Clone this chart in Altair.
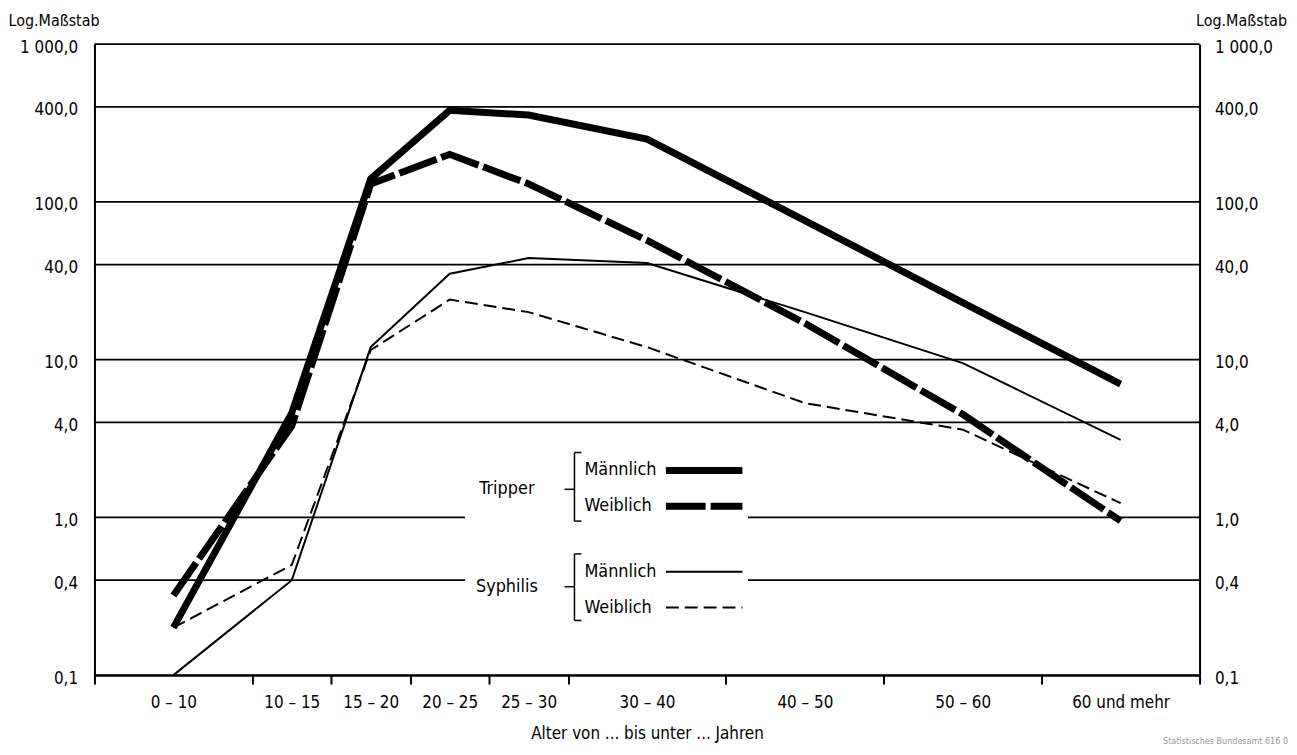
import altair as alt
import pandas as pd

# ---------------- data ----------------
age_labels = ["0 – 10", "10 – 15", "15 – 20", "20 – 25", "25 – 30",
              "30 – 40", "40 – 50", "50 – 60", "60 und mehr"]
age_mid = [5, 12.5, 17.5, 22.5, 27.5, 35, 45, 55, 65]
age_bounds = [0, 10, 15, 20, 25, 30, 40, 50, 60, 70]

tripper_m = [0.2, 4.6, 140, 380, 355, 250, 76, 23, 7.0]
tripper_w = [0.32, 3.8, 130, 200, 130, 57, 17, 4.5, 0.95]
syphilis_m = [0.1, 0.4, 12, 35, 44, 41, 20, 9.5, 3.1]
syphilis_w = [0.2, 0.5, 11.5, 24, 20, 12, 5.3, 3.6, 1.23]

y_ticks = [0.1, 0.4, 1, 4, 10, 40, 100, 400, 1000]
y_tick_labels = ["0,1", "0,4", "1,0", "4,0", "10,0", "40,0", "100,0", "400,0", "1 000,0"]

series_names = ["Tripper Männlich", "Tripper Weiblich", "Syphilis Männlich", "Syphilis Weiblich"]
series_values = [tripper_m, tripper_w, syphilis_m, syphilis_w]

rows = []
for name, vals in zip(series_names, series_values):
    for a, v in zip(age_mid, vals):
        rows.append({"serie": name, "alter": a, "wert": v})
df = pd.DataFrame(rows)
grid_df = pd.DataFrame({"wert": y_ticks})

# ---------------- styling ----------------
FONT = "Liberation Sans Narrow, DejaVu Sans Condensed, Roboto Condensed, Liberation Sans, sans-serif"
W, H = 1112, 635

styles = {
    "Tripper Männlich": dict(strokeWidth=7),
    "Tripper Weiblich": dict(strokeWidth=7, strokeDash=[40, 5]),
    "Syphilis Männlich": dict(strokeWidth=2),
    "Syphilis Weiblich": dict(strokeWidth=2, strokeDash=[13, 6]),
}


def label_expr(values, labels):
    expr = "''"
    for v, l in reversed(list(zip(values, labels))):
        expr = f"datum.value == {v} ? '{l}' : {expr}"
    return expr


xscale = alt.Scale(domain=[0, 70], nice=False, zero=False)
yscale = alt.Scale(type="log", domain=[0.1, 1000], nice=False)

x_tick_axis = alt.Axis(values=age_bounds, labels=False, ticks=True, tickSize=9,
                       tickWidth=2, tickColor="black", domainColor="black",
                       domainWidth=2, grid=False, orient="bottom",
                       title="Alter von ... bis unter ... Jahren",
                       titleFont=FONT, titleFontSize=17, titleFontWeight="normal",
                       titlePadding=41, titleColor="black")
x_label_axis = alt.Axis(values=age_mid, labelExpr=label_expr(age_mid, age_labels),
                        ticks=False, domain=False, grid=False, orient="bottom",
                        labelFont=FONT, labelFontSize=17, labelPadding=20,
                        labelColor="black", title=None, labelFlush=False,
                        labelOverlap=False)
y_left_axis = alt.Axis(values=y_ticks, labelExpr=label_expr(y_ticks, y_tick_labels),
                       ticks=False, grid=False, domainColor="black", domainWidth=2,
                       orient="left", labelFont=FONT, labelFontSize=17,
                       labelPadding=17, labelColor="black", labelOffset=3,
                       title="Log.Maßstab", titleAngle=0, titleAlign="left",
                       titleBaseline="middle", titleX=-87, titleY=-24,
                       titleFont=FONT, titleFontSize=16, titleFontWeight="normal",
                       titleColor="black", labelOverlap=False, labelFlush=False)
y_right_axis = alt.Axis(values=y_ticks, labelExpr=label_expr(y_ticks, y_tick_labels),
                        ticks=False, grid=False, domainColor="black", domainWidth=2,
                        orient="right", labelFont=FONT, labelFontSize=17,
                        labelPadding=15, labelColor="black", labelOffset=3,
                        title="Log.Maßstab", titleAngle=0, titleAlign="left",
                        titleBaseline="middle", titleX=-4, titleY=-24,
                        titleFont=FONT, titleFontSize=16, titleFontWeight="normal",
                        titleColor="black", labelOverlap=False, labelFlush=False)

base = alt.Chart(df)

# gridlines
grid = alt.Chart(grid_df).mark_rule(color="black", strokeWidth=1.6).encode(
    y=alt.Y("wert:Q", scale=yscale, axis=None),
    x=alt.value(0), x2=alt.value(W),
)

# white area behind the legend (gap in gridlines)
blank = alt.Chart(grid_df).mark_rect(fill="white").encode(
    x=alt.value(373), x2=alt.value(657), y=alt.value(398), y2=alt.value(590)
)

# data lines
line_layers = []
for i, name in enumerate(series_names):
    if i == 0:
        xa, ya = x_tick_axis, y_left_axis
    elif i == 1:
        xa, ya = x_label_axis, y_right_axis
    else:
        xa, ya = None, None
    lay = base.transform_filter(alt.datum.serie == name).mark_line(
        color="black", strokeJoin="miter", strokeCap="butt", **styles[name]
    ).encode(
        x=alt.X("alter:Q", scale=xscale, axis=xa),
        y=alt.Y("wert:Q", scale=yscale, axis=ya),
        order="alter:Q",
    )
    line_layers.append(lay)

# legend (custom)
one = pd.DataFrame({"a": [0]})


def txt(s, x, y, align="left", size=18, color="black"):
    return alt.Chart(one).mark_text(text=s, font=FONT, fontSize=size, align=align,
                                    baseline="middle", color=color).encode(
        x=alt.value(x), y=alt.value(y))


def seg(x, x2, y, y2=None, **kw):
    enc = dict(x=alt.value(x), x2=alt.value(x2), y=alt.value(y))
    if y2 is not None:
        enc["y2"] = alt.value(y2)
    else:
        enc["y2"] = alt.value(y)
    return alt.Chart(one).mark_rule(color="black", strokeCap="butt", **kw).encode(**enc)


legend = []
groups = [("Tripper", 448, 411, 480, ["Tripper Männlich", "Tripper Weiblich"]),
          ("Syphilis", 546, 513, 580, ["Syphilis Männlich", "Syphilis Weiblich"])]
for label, yc, ytop, ybot, names in groups:
    legend.append(txt(label, 415, yc, align="center"))
    legend.append(seg(483, 483, ytop, ybot, strokeWidth=1.5))
    legend.append(seg(483, 490, ytop, strokeWidth=1.5))
    legend.append(seg(483, 490, ybot, strokeWidth=1.5))
    legend.append(seg(473, 483, yc, strokeWidth=1.5))
    for j, nm in enumerate(names):
        yy = ytop + 18 + j * 36
        legend.append(txt(nm.split(" ")[1], 493, yy))
        st = dict(styles[nm])
        legend.append(seg(575, 652, yy, **st))

source = txt("Statistisches Bundesamt 616 0", 1201, 701, align="right", size=9, color="#999999")

chart = alt.layer(grid, blank, *legend, *line_layers, source).resolve_axis(
    x="independent", y="independent"
).properties(
    width=W, height=H,
    autosize=alt.AutoSizeParams(type="none"),
    padding={"left": 87, "top": 34, "right": 90, "bottom": 70},
).configure_view(stroke=None).configure(background="white")

chart.save("out.html", embed_options={"renderer": "svg", "actions": False})
